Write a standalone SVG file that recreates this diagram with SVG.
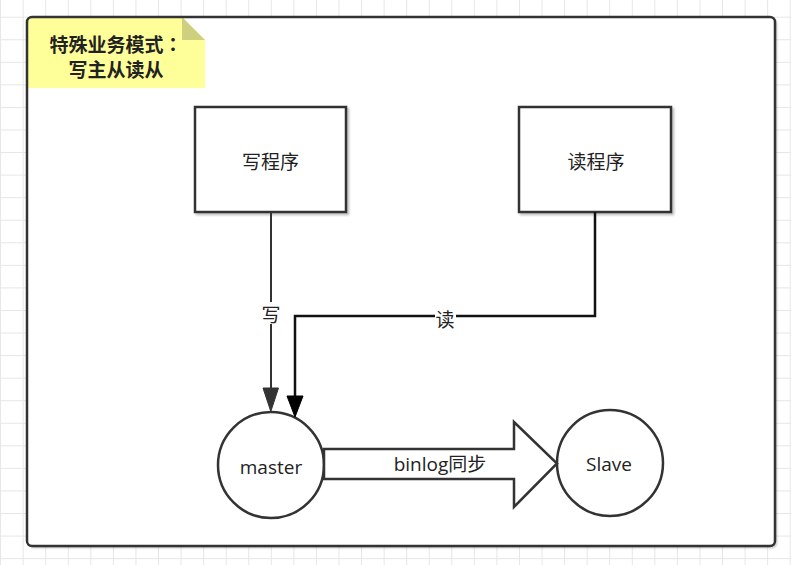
<svg xmlns="http://www.w3.org/2000/svg" width="791" height="565" viewBox="0 0 791 565">
<defs>
<pattern id="grid" width="22.56" height="22.56" x="0.1" y="16.7" patternUnits="userSpaceOnUse">
<path d="M0.5 0 V22.56 M0 0.5 H22.56" fill="none" stroke="#e6e6e6" stroke-width="1"/>
</pattern>
<filter id="sh" x="-5%" y="-5%" width="110%" height="110%">
<feDropShadow dx="2" dy="2" stdDeviation="0.8" flood-color="#000" flood-opacity="0.25"/>
</filter>
</defs>
<style>
.shape{fill:#fff;stroke:#333;stroke-width:2.5}
.cjk{font-family:"Noto Sans CJK SC","Noto Sans",sans-serif;font-size:19px;fill:#222;text-anchor:middle;dominant-baseline:central}
.lat{font-family:"Open Sans","Noto Sans CJK SC",sans-serif;font-size:19px;fill:#222;text-anchor:middle;dominant-baseline:central}
.note{font-family:"Noto Sans CJK SC",sans-serif;font-size:19px;font-weight:bold;fill:#222;text-anchor:middle;dominant-baseline:central}
.tc{font-family:"Noto Sans CJK TC",sans-serif}
</style>
<rect width="791" height="565" fill="#fff"/>
<rect width="791" height="565" fill="url(#grid)"/>
<g id="panel">
<rect x="27" y="17" width="748" height="529" rx="5" fill="#fff" filter="url(#sh)"/>
</g>
<g id="note">
<path d="M27 17 H182 L205 40 V88 H27 Z" fill="#ffff99"/>
<path d="M182 17 V40 H205 Z" fill="#cfcf80"/>
<text class="note" x="116" y="43">特殊业务模式<tspan class="tc">：</tspan></text>
<text class="note" x="116" y="68">写主从读从</text>
</g>
<rect x="27" y="17" width="748" height="529" rx="5" fill="none" stroke="#333" stroke-width="2.5"/>
<g id="write-prog">
<rect class="shape" x="195" y="107" width="151" height="105" filter="url(#sh)"/>
<text class="cjk" x="270.5" y="160">写程序</text>
</g>
<g id="read-prog">
<rect class="shape" x="519" y="107" width="152" height="105" filter="url(#sh)"/>
<text class="cjk" x="596" y="160">读程序</text>
</g>
<g id="master">
<circle class="shape" cx="271" cy="465" r="53"/>
<text class="lat" x="271" y="467">master</text>
</g>
<g id="slave">
<circle class="shape" cx="610" cy="463" r="53"/>
<text class="lat" x="609" y="464">Slave</text>
</g>
<g id="connectors">
<g id="sync">
<path class="shape" d="M324 449 H514 V422 L557 463.5 L514 507 V479 H324 Z"/>
<text class="lat" x="440" y="464">binlog同步</text>
</g>
<g id="write-edge">
<path d="M271 212 V390" fill="none" stroke="#333" stroke-width="2"/>
<path d="M263 388 H278.5 L270.8 411.5 Z" fill="#333" stroke="#333" stroke-width="1"/>
<rect x="260" y="302" width="22" height="22" fill="#fff"/>
<text class="cjk" x="271" y="313">写</text>
</g>
<g id="read-edge">
<path d="M595 212 V316 H295 V398" fill="none" stroke="#111" stroke-width="2.5"/>
<path d="M287 396 H303 L295 417 Z" fill="#000" stroke="#000" stroke-width="1"/>
<rect x="435" y="307" width="21" height="22" fill="#fff"/>
<text class="cjk" x="445" y="318">读</text>
</g>
</g>
</svg>
